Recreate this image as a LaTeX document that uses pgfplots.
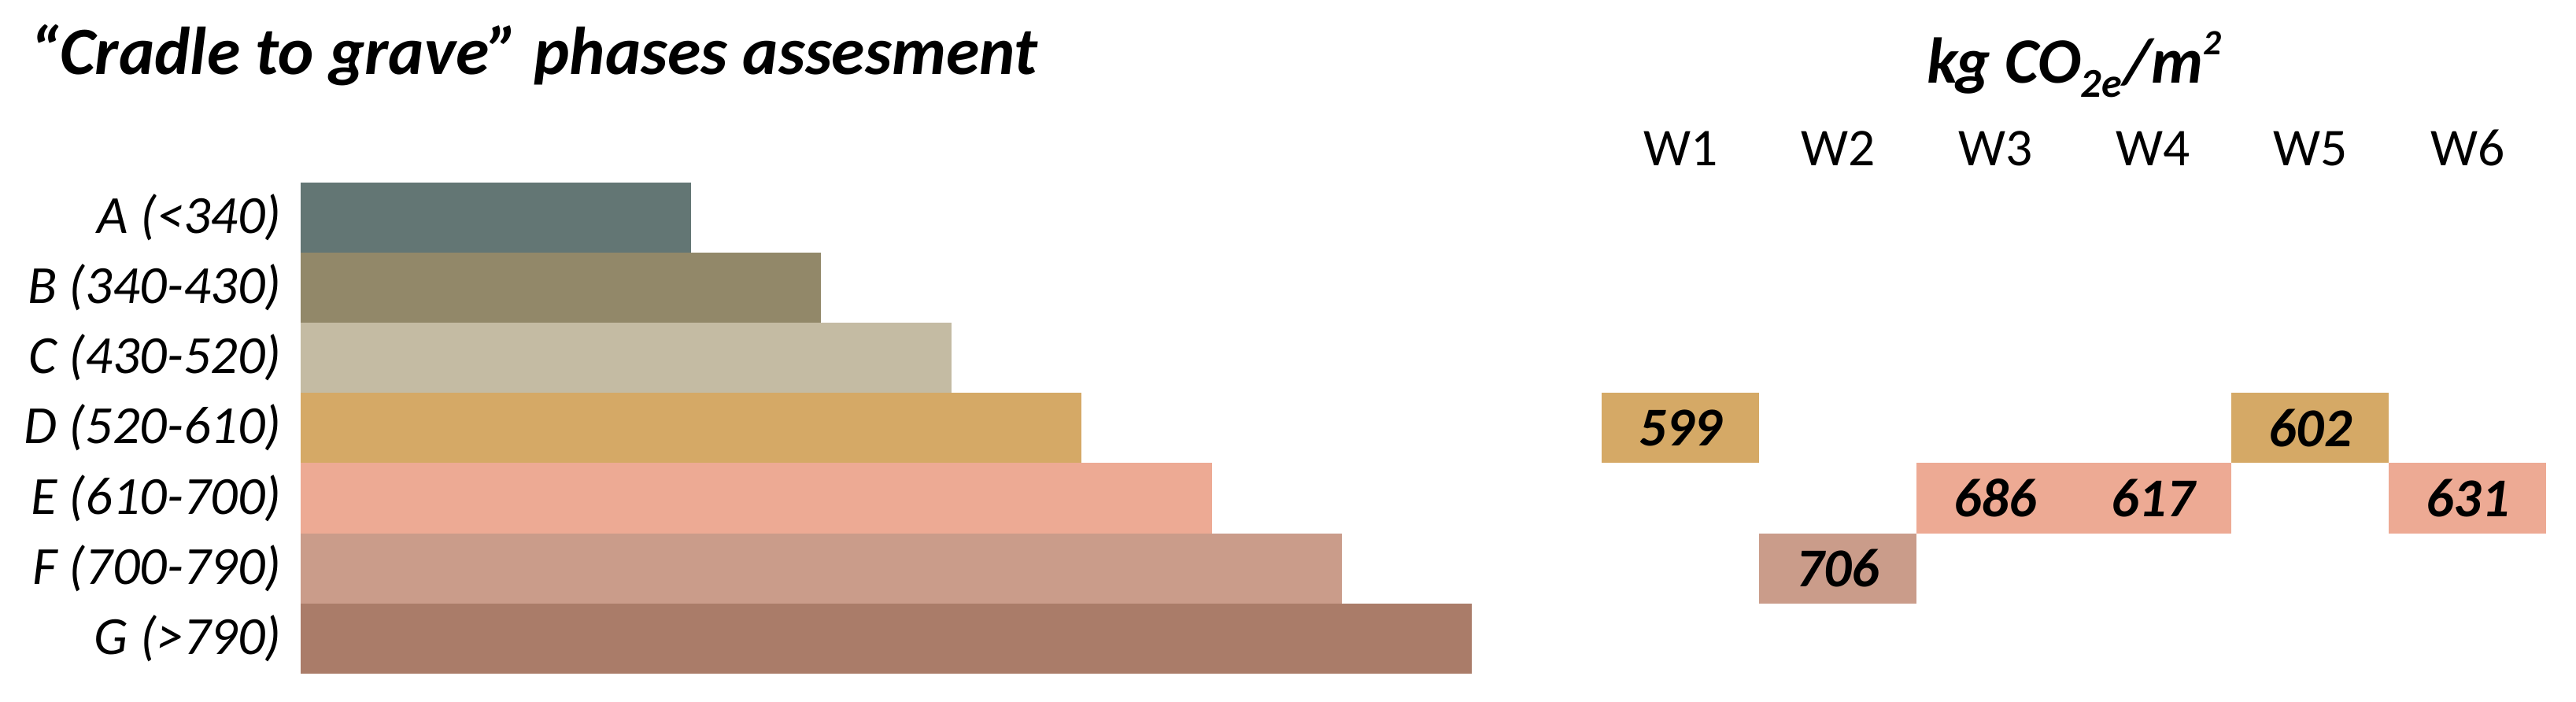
\documentclass[border=0pt]{standalone}
\usepackage{pgfplots}
\pgfplotsset{compat=1.18}
\usepackage{fontspec}
\setmainfont{Carlito}
\definecolor{cA}{HTML}{637674}
\definecolor{cB}{HTML}{928869}
\definecolor{cC}{HTML}{C4BBA3}
\definecolor{cD}{HTML}{D5A966}
\definecolor{cE}{HTML}{EDAA94}
\definecolor{cF}{HTML}{CA9C8A}
\definecolor{cG}{HTML}{AA7C69}
\begin{document}
\begin{tikzpicture}
\useasboundingbox (0,0) rectangle (470.4pt,128.1pt);
\node[anchor=base west, inner sep=0pt, font=\fontsize{12.35}{15}\selectfont\bfseries\itshape] at (5.4pt,114.45pt) {“Cradle to grave” phases assesment};
\node[anchor=base, inner sep=0pt, font=\fontsize{11.8}{15}\selectfont\bfseries\itshape] at (378.75pt,112.9pt) {kg CO\raisebox{-0.45ex}{\fontsize{7.5}{8}\selectfont 2e}\kern0.3pt/m\raisebox{0.9ex}{\fontsize{6.5}{7}\selectfont 2}};
\begin{axis}[at={(54.9pt,5.1pt)}, anchor=south west, scale only axis,
  width=213.9pt, height=89.7pt, xmin=0, xmax=9, ymin=-0.5, ymax=6.5,
  y dir=reverse, xbar, bar width=1, bar shift=0pt,
  axis line style={draw=none}, xtick=\empty, ytick={0,...,6},
  yticklabels={A (<340),B (340-430),C (430-520),D (520-610),E (610-700),F (700-790),G (>790)},
  major tick length=0pt,
  yticklabel style={font=\fontsize{9.8}{11}\selectfont\itshape},
  clip=false]
\addplot[fill=cA, draw=none] coordinates {(3,0)};
\addplot[fill=cB, draw=none] coordinates {(4,1)};
\addplot[fill=cC, draw=none] coordinates {(5,2)};
\addplot[fill=cD, draw=none] coordinates {(6,3)};
\addplot[fill=cE, draw=none] coordinates {(7,4)};
\addplot[fill=cF, draw=none] coordinates {(8,5)};
\addplot[fill=cG, draw=none] coordinates {(9,6)};
\end{axis}
\begin{axis}[at={(292.5pt,5.1pt)}, anchor=south west, scale only axis,
  width=172.5pt, height=89.7pt, xmin=0, xmax=6, ymin=-0.5, ymax=6.5,
  y dir=reverse, axis line style={draw=none}, major tick length=0pt,
  xtick={0.5,1.5,2.5,3.5,4.5,5.5}, xticklabels={W1,W2,W3,W4,W5,W6},
  xticklabel pos=upper, ytick=\empty,
  xticklabel style={font=\fontsize{9.7}{11}\selectfont, anchor=base, yshift=3pt, inner sep=0pt},
  clip=false]
\addplot[fill=cD, draw=none] coordinates {(0,2.5)(1,2.5)(1,3.5)(0,3.5)};
\addplot[fill=cD, draw=none] coordinates {(4,2.5)(5,2.5)(5,3.5)(4,3.5)};
\addplot[fill=cE, draw=none] coordinates {(2,3.5)(4,3.5)(4,4.5)(2,4.5)};
\addplot[fill=cE, draw=none] coordinates {(5,3.5)(6,3.5)(6,4.5)(5,4.5)};
\addplot[fill=cF, draw=none] coordinates {(1,4.5)(2,4.5)(2,5.5)(1,5.5)};
\addplot[only marks, mark=none, nodes near coords, point meta=explicit symbolic,
  nodes near coords style={font=\fontsize{10}{12}\selectfont\bfseries\itshape, anchor=center, inner sep=0pt}]
  table[meta=lab] {
x y lab
0.5 3 599
1.5 5 706
2.5 4 686
3.5 4 617
4.5 3 602
5.5 4 631
};
\end{axis}
\end{tikzpicture}
\end{document}
